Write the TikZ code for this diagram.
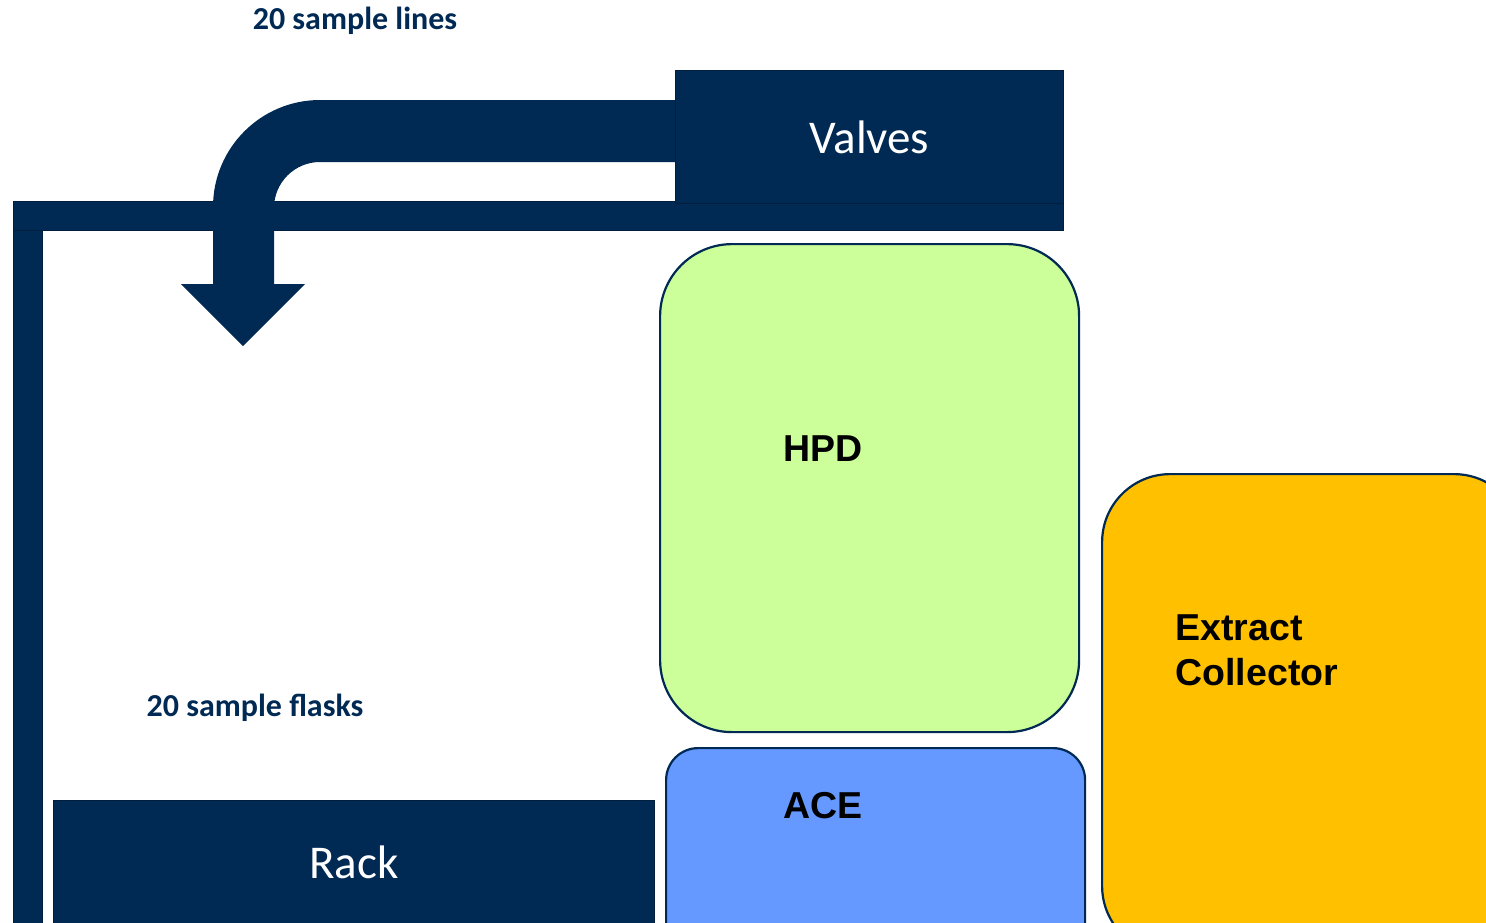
\documentclass[tikz,border=0pt]{standalone}
\usepackage{fontspec}
\setmainfont{Carlito}
\newfontfamily\arialfont{Liberation Sans}
\definecolor{navy}{RGB}{0,41,84}
\definecolor{navyline}{RGB}{0,30,62}
\definecolor{hpdgreen}{RGB}{204,255,153}
\definecolor{aceblue}{RGB}{102,153,255}
\definecolor{collectorgold}{RGB}{255,192,0}
\begin{document}
\begin{tikzpicture}[
		x=1pt, y=-1pt,
		block/.style={draw=navyline, line width=0.8pt, fill=navy, inner sep=0pt, anchor=north west,
			text=white, font=\fontsize{47}{47}\selectfont},
		module/.style={draw=navy, line width=2.2pt, inner sep=0pt, anchor=north west},
		caption/.style={text=navy, font=\fontsize{32}{32}\selectfont\bfseries},
		modlabel/.style={font=\arialfont\bfseries\fontsize{37.5}{45}\selectfont, align=left}
	]
	\useasboundingbox (0,0) rectangle (1486,922);
	\clip (0,0) rectangle (1486,922);
	% frame
	\node[block, minimum width=1050pt, minimum height=29pt] (bar) at (13,201) {};
	\node[block, minimum width=29pt, minimum height=710pt] (post) at (13,230) {};
	% bent arrow
	\fill[navy] (675,100) -- (320,100) arc[start angle=270, end angle=180, radius=107]
		-- (213,284) -- (181,284) -- (243,346) -- (305,284) -- (274,284) -- (274,208)
		arc[start angle=180, end angle=270, radius=46] -- (675,162) -- cycle;
	\node[block, minimum width=388pt, minimum height=133pt] (valves) at (675,70) {Valves};
	\node[block, minimum width=601pt, minimum height=124pt] (rack) at (53,800) {Rack};
	% modules
	\node[module, fill=hpdgreen, minimum width=419pt, minimum height=488pt, rounded corners=72pt] (hpd) at (659,243) {};
	\node[module, fill=aceblue, minimum width=419pt, minimum height=220pt, rounded corners=32pt] (ace) at (665,747) {};
	\node[module, fill=collectorgold, minimum width=420pt, minimum height=480pt, rounded corners=68pt] (collector) at (1101,473) {};
	\node[modlabel] (hpdtext) at (823,449) {HPD};
	\node[modlabel] (acetext) at (823,806) {ACE};
	\node[modlabel, anchor=west] (collectortext) at (1172,650) {Extract\\Collector};
	% captions
	\node[caption] (lines) at (355,21) {20 sample lines};
	\node[caption] (flasks) at (255,708) {20 sample flasks};
\end{tikzpicture}
\end{document}
